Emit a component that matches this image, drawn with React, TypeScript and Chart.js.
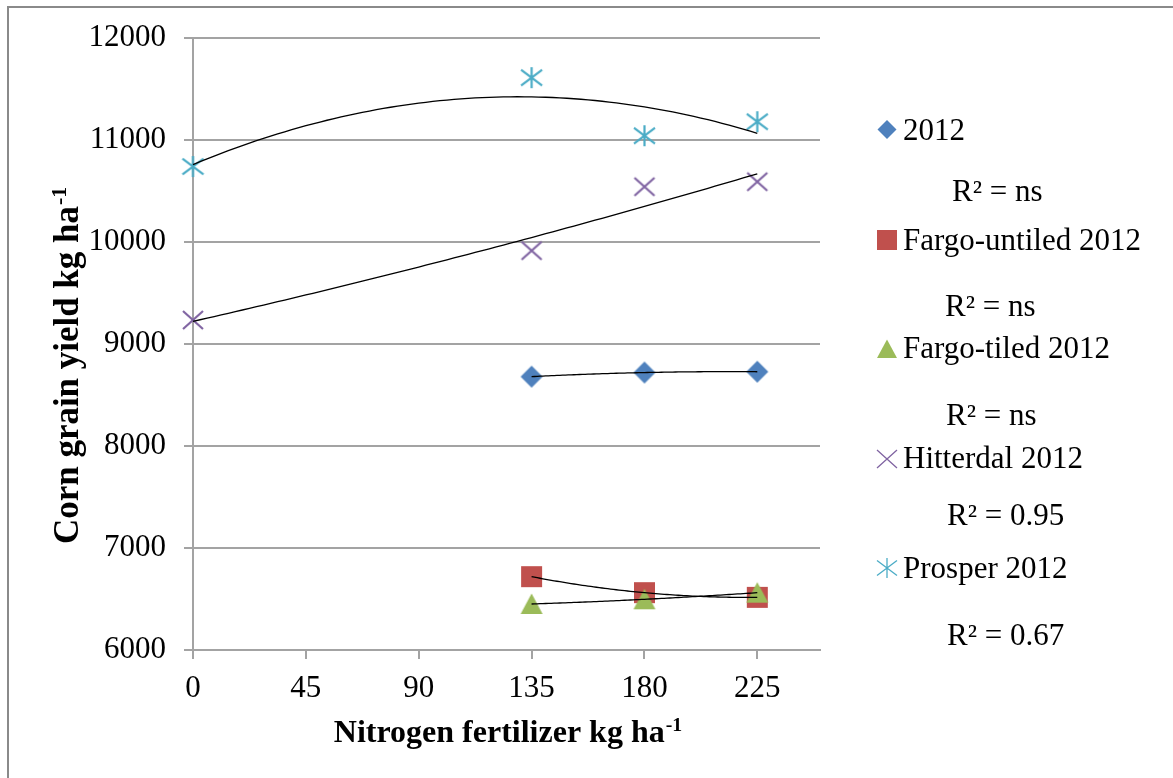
import React, { useEffect, useRef } from 'react';
import { Chart, registerables } from 'chart.js';

Chart.register(...registerables);

// ---------- data ----------
const xTickValues = [0, 45, 90, 135, 180, 225];
const yTickValues = [6000, 7000, 8000, 9000, 10000, 11000, 12000];

const seriesNames = ['2012', 'Fargo-untiled 2012', 'Fargo-tiled 2012', 'Hitterdal 2012', 'Prosper 2012'];
const r2Labels = ['R\u00B2 = ns', 'R\u00B2 = ns', 'R\u00B2 = ns', 'R\u00B2 = 0.95', 'R\u00B2 = 0.67'];
const seriesColors = ['#4F81BD', '#C0504D', '#9BBB59', '#8064A2', '#4BACC6'];
const seriesMarkers = ['diamond', 'square', 'triangle', 'x', 'asterisk'];

const x2012 = [135, 180, 225];
const y2012 = [8680, 8720, 8728];
const xFargoUntiled = [135, 180, 225];
const yFargoUntiled = [6719, 6562, 6516];
const xFargoTiled = [135, 180, 225];
const yFargoTiled = [6451, 6497, 6562];
const xHitterdal = [0, 135, 180, 225];
const yHitterdal = [9235, 9915, 10542, 10591];
const xProsper = [0, 135, 180, 225];
const yProsper = [10740, 11611, 11042, 11179];

const seriesX = [x2012, xFargoUntiled, xFargoTiled, xHitterdal, xProsper];
const seriesY = [y2012, yFargoUntiled, yFargoTiled, yHitterdal, yProsper];

const xTitle = 'Nitrogen fertilizer kg ha';
const yTitle = 'Corn grain yield kg ha';
const titleSup = '-1';

// ---------- helpers ----------
function drawMarker(g: CanvasRenderingContext2D, kind: string, cx: number, cy: number, size: number, color: string, lw: number) {
  const h = size / 2;
  g.save();
  g.fillStyle = color;
  g.strokeStyle = color;
  g.lineWidth = lw;
  g.lineCap = 'butt';
  g.beginPath();
  if (kind === 'diamond') {
    g.moveTo(cx, cy - h);
    g.lineTo(cx + h, cy);
    g.lineTo(cx, cy + h);
    g.lineTo(cx - h, cy);
    g.closePath();
    g.fill();
  } else if (kind === 'square') {
    g.rect(cx - h, cy - h, size, size);
    g.fill();
  } else if (kind === 'triangle') {
    g.moveTo(cx, cy - h * 0.95);
    g.lineTo(cx + h, cy + h * 0.9);
    g.lineTo(cx - h, cy + h * 0.9);
    g.closePath();
    g.fill();
  } else if (kind === 'x') {
    g.moveTo(cx - h, cy - h * 0.9);
    g.lineTo(cx + h, cy + h * 0.9);
    g.moveTo(cx + h, cy - h * 0.9);
    g.lineTo(cx - h, cy + h * 0.9);
    g.stroke();
  } else if (kind === 'asterisk') {
    g.moveTo(cx - h, cy - h * 0.75);
    g.lineTo(cx + h, cy + h * 0.75);
    g.moveTo(cx + h, cy - h * 0.75);
    g.lineTo(cx - h, cy + h * 0.75);
    g.moveTo(cx, cy - h);
    g.lineTo(cx, cy + h);
    g.stroke();
  }
  g.restore();
}

function makeMarkerImage(kind: string, size: number, color: string, lw: number) {
  const c = document.createElement('canvas');
  const s = Math.ceil(size + 4);
  c.width = s;
  c.height = s;
  const g = c.getContext('2d') as CanvasRenderingContext2D;
  drawMarker(g, kind, s / 2, s / 2, size, color, lw);
  return c;
}

function quadFit(xs: number[], ys: number[]) {
  // least squares y = a + b x + c x^2
  const n = xs.length;
  let s0 = n, s1 = 0, s2 = 0, s3 = 0, s4 = 0, t0 = 0, t1 = 0, t2 = 0;
  for (let i = 0; i < n; i++) {
    const x = xs[i], y = ys[i];
    s1 += x; s2 += x * x; s3 += x * x * x; s4 += x * x * x * x;
    t0 += y; t1 += x * y; t2 += x * x * y;
  }
  const M = [
    [s0, s1, s2, t0],
    [s1, s2, s3, t1],
    [s2, s3, s4, t2],
  ];
  for (let i = 0; i < 3; i++) {
    let p = i;
    for (let r = i + 1; r < 3; r++) if (Math.abs(M[r][i]) > Math.abs(M[p][i])) p = r;
    const tmp = M[i]; M[i] = M[p]; M[p] = tmp;
    for (let r = 0; r < 3; r++) {
      if (r === i) continue;
      const f = M[r][i] / M[i][i];
      for (let k = i; k < 4; k++) M[r][k] -= f * M[i][k];
    }
  }
  return [M[0][3] / M[0][0], M[1][3] / M[1][1], M[2][3] / M[2][2]];
}

const SERIF = '"Liberation Serif", "Times New Roman", serif';
const GRID = '#a3a3a3';

export default function App() {
  const ref = useRef<HTMLCanvasElement>(null);

  useEffect(() => {
    if (!ref.current) return;

    const plotImages = [
      makeMarkerImage('diamond', 22, seriesColors[0], 0),
      makeMarkerImage('square', 21, seriesColors[1], 0),
      makeMarkerImage('triangle', 22, seriesColors[2], 0),
      makeMarkerImage('x', 20, seriesColors[3], 2.2),
      makeMarkerImage('asterisk', 21, seriesColors[4], 2.2),
    ];

    const datasets = seriesNames.map((name, i) => ({
      label: name,
      data: seriesX[i].map((x, j) => ({ x, y: seriesY[i][j] })),
      showLine: false,
      pointStyle: plotImages[i] as any,
      pointRadius: 11,
      pointHoverRadius: 11,
      backgroundColor: seriesColors[i],
      borderColor: seriesColors[i],
      clip: false as any,
      order: 5 - i,
    }));

    const bgPlugin = {
      id: 'bg',
      beforeDraw(chart: any) {
        const ctx = chart.ctx;
        ctx.save();
        ctx.fillStyle = '#ffffff';
        ctx.fillRect(0, 0, chart.width, chart.height);
        ctx.strokeStyle = '#8a8a8a';
        ctx.lineWidth = 2;
        ctx.beginPath();
        ctx.moveTo(8, 7);
        ctx.lineTo(chart.width, 7);
        ctx.moveTo(8, 6);
        ctx.lineTo(8, chart.height);
        ctx.stroke();
        ctx.restore();
      },
    };

    const trendPlugin = {
      id: 'trend',
      afterDatasetsDraw(chart: any) {
        const ctx = chart.ctx;
        const xs = chart.scales.x;
        const ys = chart.scales.y;
        ctx.save();
        ctx.strokeStyle = '#000000';
        ctx.lineWidth = 1.3;
        for (let i = 0; i < seriesX.length; i++) {
          const [a, b, c] = quadFit(seriesX[i], seriesY[i]);
          const x0 = Math.min(...seriesX[i]);
          const x1 = Math.max(...seriesX[i]);
          ctx.beginPath();
          const steps = 80;
          for (let k = 0; k <= steps; k++) {
            const xv = x0 + ((x1 - x0) * k) / steps;
            const yv = a + b * xv + c * xv * xv;
            const px = xs.getPixelForValue(xv);
            const py = ys.getPixelForValue(yv);
            if (k === 0) ctx.moveTo(px, py);
            else ctx.lineTo(px, py);
          }
          ctx.stroke();
        }
        ctx.restore();
      },
    };

    const annotPlugin = {
      id: 'annot',
      afterDraw(chart: any) {
        const ctx = chart.ctx;
        const area = chart.chartArea;
        ctx.save();
        ctx.fillStyle = '#000000';

        // X axis title
        let fs = 32;
        ctx.font = `bold ${fs}px ${SERIF}`;
        const wx = ctx.measureText(xTitle).width;
        fs = (fs * 331) / wx;
        ctx.font = `bold ${fs}px ${SERIF}`;
        const mainW = ctx.measureText(xTitle).width;
        ctx.font = `bold ${fs * 0.62}px ${SERIF}`;
        const supW = ctx.measureText(titleSup).width;
        const cx = (area.left + area.right) / 2 + 1;
        const startX = cx - (mainW + supW) / 2;
        ctx.textAlign = 'left';
        ctx.textBaseline = 'alphabetic';
        ctx.font = `bold ${fs}px ${SERIF}`;
        ctx.fillText(xTitle, startX, 742);
        ctx.font = `bold ${fs * 0.62}px ${SERIF}`;
        ctx.fillText(titleSup, startX + mainW + 1, 731);

        // Y axis title (rotated)
        let fy = 34;
        ctx.font = `bold ${fy}px ${SERIF}`;
        const wy = ctx.measureText(yTitle).width;
        fy = (fy * 338) / wy;
        ctx.font = `bold ${fy}px ${SERIF}`;
        const mainWY = ctx.measureText(yTitle).width;
        ctx.font = `bold ${fy * 0.62}px ${SERIF}`;
        const supWY = ctx.measureText(titleSup).width;
        const cyy = 366;
        ctx.save();
        ctx.translate(78, cyy);
        ctx.rotate(-Math.PI / 2);
        const sx = -(mainWY + supWY) / 2;
        ctx.font = `bold ${fy}px ${SERIF}`;
        ctx.fillText(yTitle, sx, 0);
        ctx.font = `bold ${fy * 0.62}px ${SERIF}`;
        ctx.fillText(titleSup, sx + mainWY + 1, -12);
        ctx.restore();

        // Legend
        const markerX = 887;
        const textX = 903;
        const entryBase = [140, 250, 358, 468, 578];
        const markerY = [129.5, 240, 349, 459, 568];
        const r2X = [952, 945, 946, 947, 947];
        const r2Base = [201, 316, 425, 525, 645];
        const legendSizes = [19, 20, 20, 20, 20];
        ctx.font = `31px ${SERIF}`;
        for (let i = 0; i < seriesNames.length; i++) {
          drawMarker(ctx, seriesMarkers[i], markerX, markerY[i], legendSizes[i], seriesColors[i], 1.3);
          ctx.fillStyle = '#000000';
          ctx.fillText(seriesNames[i], textX, entryBase[i]);
          ctx.fillText(r2Labels[i], r2X[i], r2Base[i]);
        }
        ctx.restore();
      },
    };

    const chart = new Chart(ref.current, {
      type: 'scatter',
      data: { datasets: datasets as any },
      options: {
        responsive: false,
        animation: false,
        devicePixelRatio: 1,
        layout: { padding: { left: 0, top: 38, right: 353, bottom: 0 } },
        plugins: {
          legend: { display: false },
          tooltip: { enabled: false },
          title: { display: false },
        },
        scales: {
          x: {
            type: 'linear',
            position: 'bottom',
            min: 0,
            max: 250,
            afterBuildTicks: (s: any) => {
              s.ticks = xTickValues.map((v) => ({ value: v }));
            },
            afterFit: (s: any) => {
              s.height = 128;
            },
            ticks: {
              color: '#000000',
              font: { family: SERIF, size: 31 },
              padding: 11,
              maxRotation: 0,
              autoSkip: false,
              callback: (v: any) => String(v),
            },
            grid: {
              drawOnChartArea: false,
              drawTicks: true,
              tickLength: 9,
              color: GRID,
              lineWidth: 2,
            },
            border: { display: true, color: GRID, width: 2 },
          },
          y: {
            type: 'linear',
            min: 6000,
            max: 12000,
            afterBuildTicks: (s: any) => {
              s.ticks = yTickValues.map((v) => ({ value: v }));
            },
            afterFit: (s: any) => {
              s.width = 193;
            },
            ticks: {
              color: '#000000',
              font: { family: SERIF, size: 31 },
              padding: 18,
              autoSkip: false,
              callback: (v: any) => String(v),
            },
            grid: {
              drawOnChartArea: true,
              drawTicks: true,
              tickLength: 9,
              color: GRID,
              lineWidth: 2,
            },
            border: { display: true, color: GRID, width: 2 },
          },
        },
      },
      plugins: [bgPlugin, trendPlugin, annotPlugin],
    });

    return () => chart.destroy();
  }, []);

  return (
    <div style={{ position: 'fixed', left: 0, top: 0, width: 1173, height: 778, background: '#ffffff' }}>
      <canvas ref={ref} width={1173} height={778} style={{ display: 'block', width: 1173, height: 778 }} />
    </div>
  );
}
